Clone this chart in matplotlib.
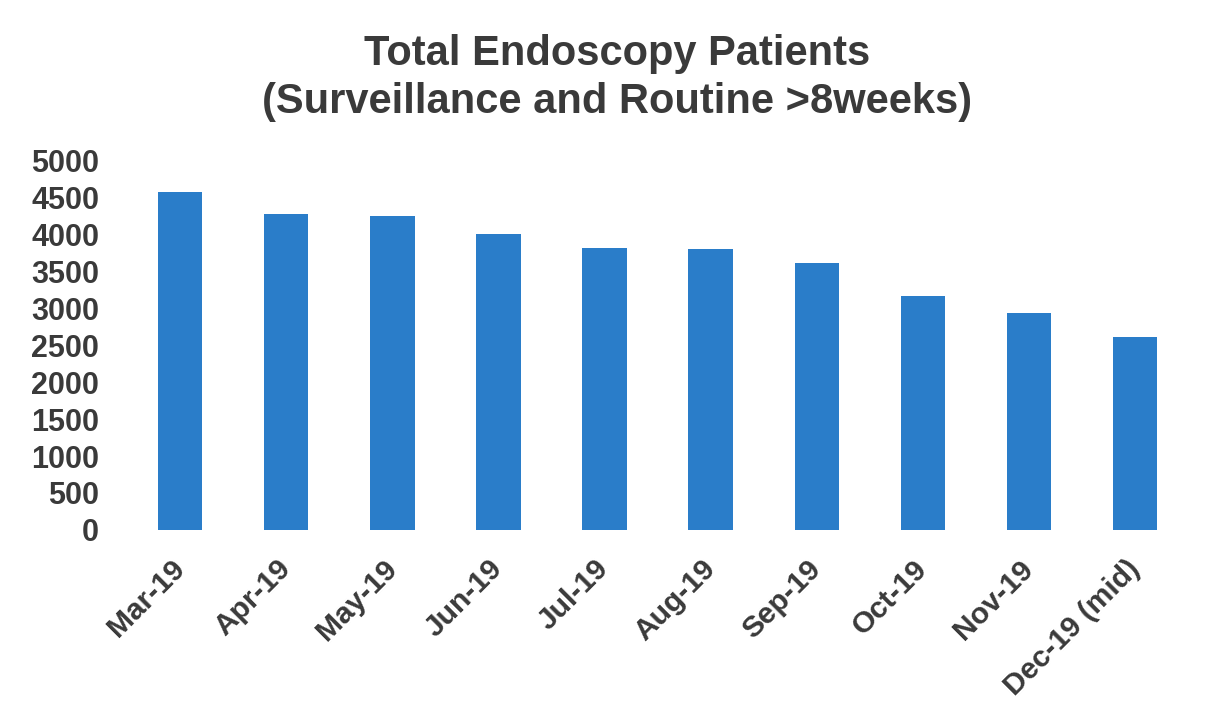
import matplotlib
matplotlib.use('Agg')
import matplotlib.pyplot as plt
import numpy as np

# values
months = ['Mar-19', 'Apr-19', 'May-19', 'Jun-19', 'Jul-19',
          'Aug-19', 'Sep-19', 'Oct-19', 'Nov-19', 'Dec-19 (mid)']
patients = [4570, 4270, 4245, 4005, 3815, 3800, 3605, 3165, 2930, 2605]
yticks = [0, 500, 1000, 1500, 2000, 2500, 3000, 3500, 4000, 4500, 5000]

title = 'Total Endoscopy Patients\n(Surveillance and Routine >8weeks)'

plt.rcParams['font.family'] = ['Liberation Sans', 'DejaVu Sans']
textColor = '#3a3a3a'
barColor = '#2a7dc9'


def main():
    fig = plt.figure(figsize=(12.15, 7.22), dpi=100)
    ax = fig.add_axes([0.1045, 0.266, 0.8735, 0.512])

    x = np.arange(len(months))
    ax.bar(x, patients, width=0.42, color=barColor)

    ax.set_xlim(-0.5, len(months) - 0.5)
    ax.set_ylim(0, 5000)
    ax.set_yticks(yticks)
    ax.set_yticklabels([str(v) for v in yticks], fontsize=22,
                       fontweight='bold', color=textColor)
    ax.set_xticks(x)
    ax.set_xticklabels(months, rotation=45, ha='right', va='center',
                       rotation_mode='anchor', fontsize=21.5,
                       fontweight='bold', color=textColor)

    ax.tick_params(axis='y', length=0, pad=20)
    ax.tick_params(axis='x', length=0, pad=25)
    for s in ax.spines.values():
        s.set_visible(False)

    # two title lines, centred on the reference positions
    fig.text(0.508, 1 - 78.0 / 722, title, ha='center', va='center',
             fontsize=30, fontweight='bold', color=textColor,
             linespacing=1.28)

    fig.savefig('out.png', dpi=100, facecolor='white')


if __name__ == '__main__':
    main()
